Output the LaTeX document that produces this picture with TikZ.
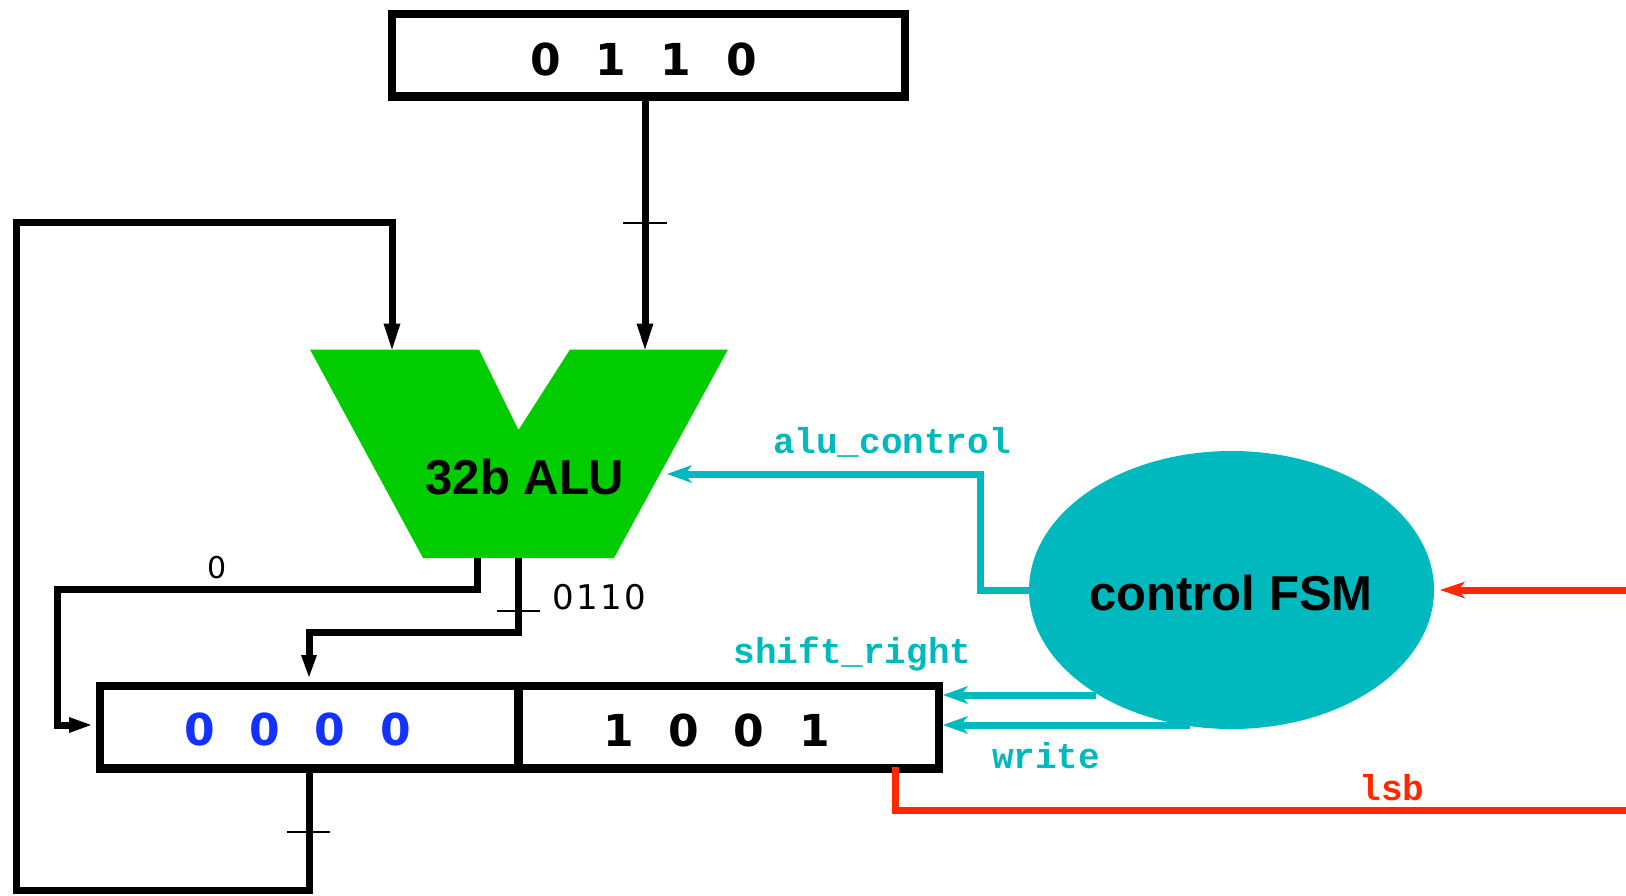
\documentclass[tikz,border=0pt]{standalone}
\usepackage{fontspec}
\setmainfont{Liberation Sans}
\newfontfamily\digfont{DejaVu Sans}
\newfontfamily\sigfont{Liberation Mono}
\usetikzlibrary{arrows.meta,shapes.geometric,calc}
\definecolor{alugreen}{RGB}{0,204,0}
\definecolor{ctlcyan}{RGB}{0,185,190}
\definecolor{bitblue}{RGB}{20,50,255}
\definecolor{lsbred}{RGB}{255,40,0}
\newcommand\pbits[5]{\makebox[#1]{#2}\makebox[#1]{#3}\makebox[#1]{#4}\makebox[#1]{#5}}
\begin{document}
\begin{tikzpicture}[x=1pt,y=-1pt,
  regbox/.style={draw=black,fill=white,line width=8.5pt,rectangle,inner sep=0pt,minimum height=82.5pt},
  bits/.style={font=\digfont\bfseries\fontsize{44}{50}\selectfont,inner sep=0pt},
  bigtext/.style={font=\bfseries\fontsize{49}{56}\selectfont,inner sep=0pt},
  sig/.style={font=\sigfont\bfseries\fontsize{36}{40}\selectfont,text=ctlcyan,inner sep=0pt,anchor=base},
  small/.style={font=\digfont\fontsize{34}{40}\selectfont,inner sep=0pt},
  bus/.style={draw=black,line width=7pt},
  bushead/.style={-{Triangle[length=26pt,width=17pt,line width=0pt]}},
  reghead/.style={-{Triangle[length=22pt,width=16pt,line width=0pt]}},
  ctl/.style={draw=ctlcyan,line width=7pt,-{Stealth[length=25pt,width=18pt,inset=7pt,line width=0pt]}},
  lsbwire/.style={draw=lsbred,line width=7pt,-{Stealth[length=25pt,width=17pt,inset=7pt,line width=0pt]}},
  tickmark/.style={draw=black,line width=2pt},
]
\useasboundingbox (0,0) rectangle (1626,895);
\clip (0,0) rectangle (1626,895);

% ALU shape and pins
\fill[alugreen] (310,349.5) -- (479,349.5) -- (518.5,430) -- (570,349.5) -- (728,349.5) -- (614,558) -- (423,558) -- cycle;
\node[bigtext] (alu) at (525,477) {32b ALU};
\coordinate (aluInA) at (392,349.5);
\coordinate (aluInB) at (645,349.5);
\coordinate (aluOut0) at (477,558);
\coordinate (aluOut1) at (518,558);
\coordinate (aluCtl) at (667,474);

% boxes
\node[regbox,minimum width=513pt] (top) at (648.5,55) {};
\node[regbox,minimum width=418.5pt] (regL) at (309,727) {};
\node[regbox,minimum width=420.5pt] (regR) at (728.5,727) {};

% FSM
\node[ellipse,fill=ctlcyan,inner sep=0pt,minimum width=405pt,minimum height=278pt] (fsm) at (1231.5,590) {};
\node[bigtext] (fsmtext) at (1231,593) {control FSM};

% bit contents
\node[bits] (topbits) at (643.5,59) {\pbits{65.4pt}{0}{1}{1}{0}};
\node[bits,text=bitblue] (hibits) at (297.5,729.5) {\pbits{65.4pt}{0}{0}{0}{0}};
\node[bits] (lobits) at (716.5,730) {\pbits{65.4pt}{1}{0}{0}{1}};

% black buses
\draw[bus,bushead] (top.south -| aluInB) -- (aluInB);
\draw[tickmark] (623,223) -- (667,223);

\coordinate (loopA) at (309,890);
\coordinate (loopB) at (16,890);
\coordinate (loopC) at (16,222);
\coordinate (loopD) at (392,222);
\draw[bus,bushead] (regL.south) -- (loopA) -- (loopB) -- (loopC) -- (loopD) -- (aluInA);
\draw[tickmark] (287,832) -- (330,832);

\coordinate (zA) at (477,589);
\coordinate (zB) at (57,589);
\coordinate (zC) at (57,725);
\draw[bus,reghead,shorten >=4.5pt] (aluOut0) -- (zA) -- (zB) -- (zC) -- (zC -| regL.west);
\node[small,font=\digfont\fontsize{30}{36}\selectfont] (zlabel) at (217,567.5) {0};

\coordinate (pA) at (518,632);
\coordinate (pB) at (309,632);
\draw[bus,reghead,shorten >=4.5pt] (aluOut1) -- (pA) -- (pB) -- (regL.north);
\draw[tickmark] (497,611) -- (540,611);
\node[small,anchor=west] (plabel) at (551,597.5) {\pbits{24pt}{0}{1}{1}{0}};

% control signals
\coordinate (acA) at (980,590);
\coordinate (acB) at (980,474);
\draw[ctl] (fsm.west) -- (acA) -- (acB) -- (aluCtl);
\node[sig] (alucontrol) at (892,453) {alu\_control};

\coordinate (srA) at (1096,695);
\draw[ctl] (srA) -- (srA -| regR.east);
\node[sig] (shiftright) at (852.5,663) {shift\_right};

\coordinate (wrA) at (1190,725);
\draw[ctl] (wrA) -- (wrA -| regR.east);
\node[sig] (write) at (1046,768) {write};

% lsb
\coordinate (lA) at (895,767);
\coordinate (lB) at (895,810);
\coordinate (lC) at (1660,810);
\coordinate (lD) at (1660,590);
\draw[lsbwire,shorten >=6pt] (lA) -- (lB) -- (lC) -- (lD) -- (fsm.east);
\node[sig,text=lsbred] (lsb) at (1392,800) {lsb};
\end{tikzpicture}
\end{document}
